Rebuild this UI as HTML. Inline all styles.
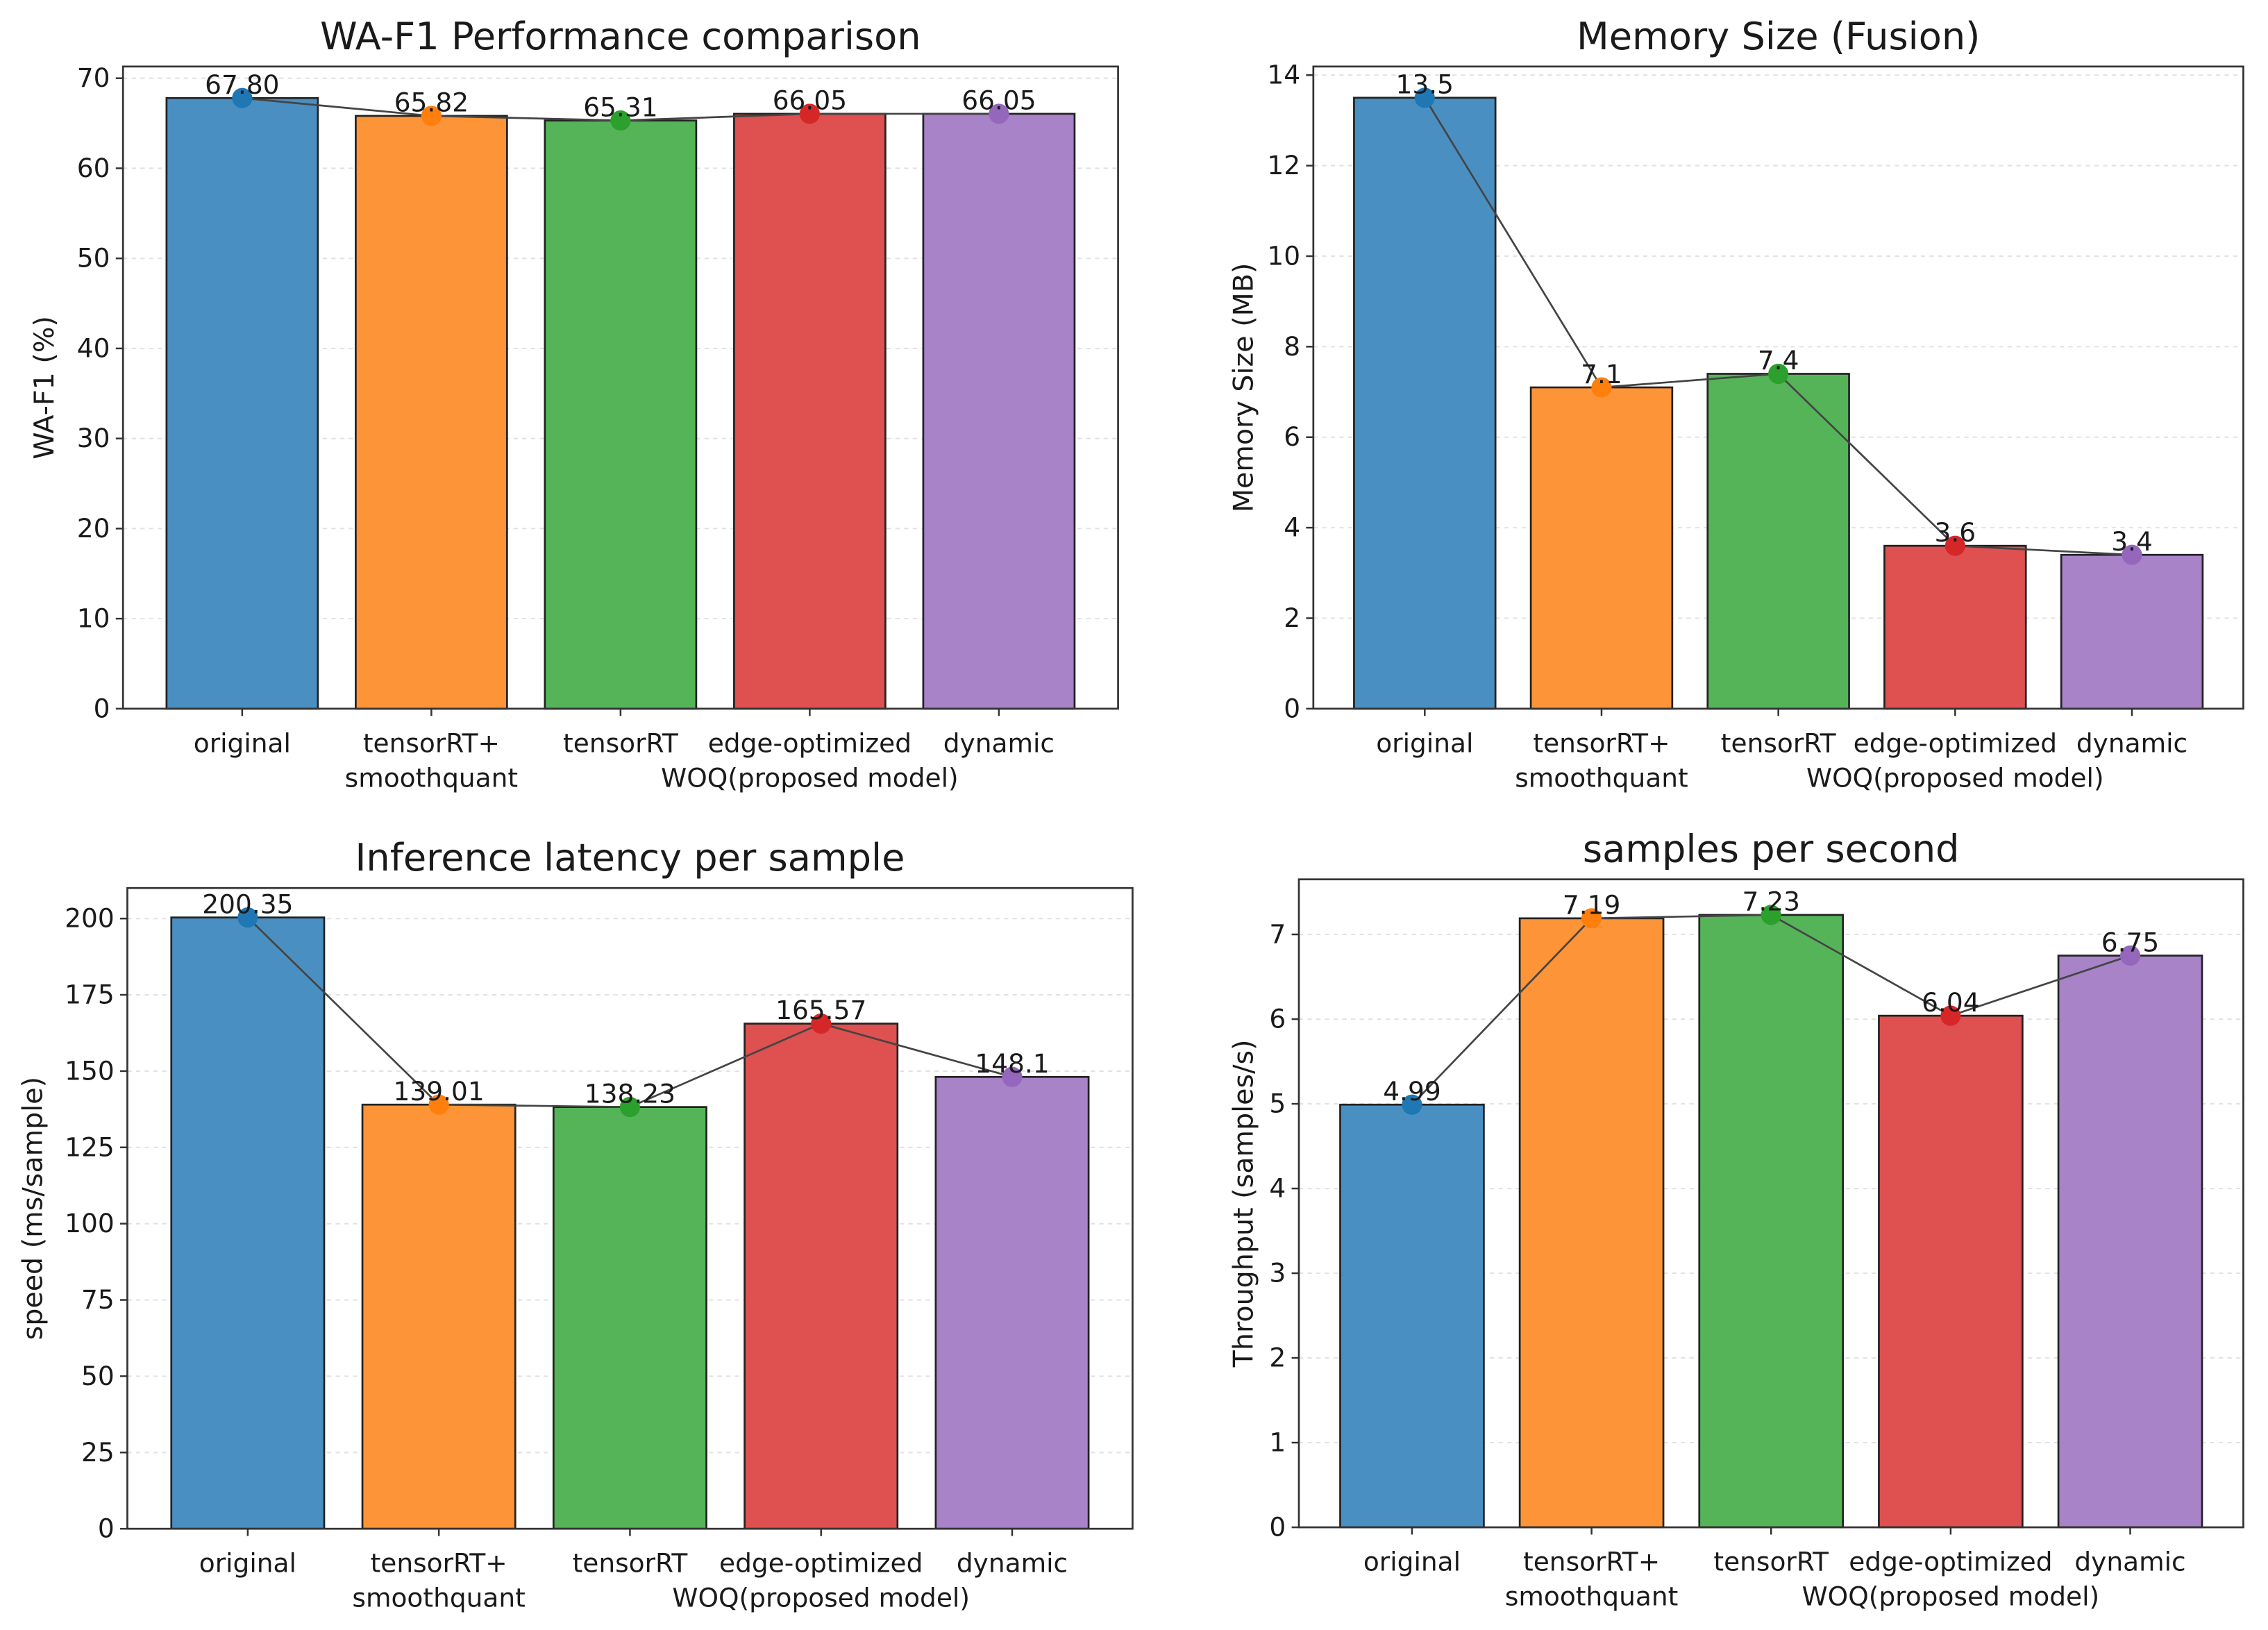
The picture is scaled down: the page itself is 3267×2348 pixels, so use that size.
<!DOCTYPE html>
<html><head><meta charset="utf-8"><style>
html,body{margin:0;padding:0;background:#fff;}
svg{display:block;}
text{font-family:"DejaVu Sans","Liberation Sans",sans-serif;fill:#1a1a1a;}
</style></head><body>
<svg id="fig" width="3267" height="2348" viewBox="0 0 1568 1127" xmlns="http://www.w3.org/2000/svg"></svg>
<script>
const categories = ["original", "tensorRT+\nsmoothquant", "tensorRT", "edge-optimized\nWOQ(proposed model)", "dynamic"];
const f1Values = [67.80, 65.82, 65.31, 66.05, 66.05];
const f1Labels = ["67.80", "65.82", "65.31", "66.05", "66.05"];
const f1Ticks = [0, 10, 20, 30, 40, 50, 60, 70];
const memValues = [13.5, 7.1, 7.4, 3.6, 3.4];
const memLabels = ["13.5", "7.1", "7.4", "3.6", "3.4"];
const memTicks = [0, 2, 4, 6, 8, 10, 12, 14];
const latValues = [200.35, 139.01, 138.23, 165.57, 148.1];
const latLabels = ["200.35", "139.01", "138.23", "165.57", "148.1"];
const latTicks = [0, 25, 50, 75, 100, 125, 150, 175, 200];
const thrValues = [4.99, 7.19, 7.23, 6.04, 6.75];
const thrLabels = ["4.99", "7.19", "7.23", "6.04", "6.75"];
const thrTicks = [0, 1, 2, 3, 4, 5, 6, 7];

const barColors = ["#4a8fc2", "#fd9437", "#55b458", "#df5050", "#a883c8"];
const dotColors = ["#1f77b4", "#ff7f0e", "#2ca02c", "#d62728", "#9467bd"];
const NS = "http://www.w3.org/2000/svg";
const fig = document.getElementById("fig");
function el(tag, attrs, parent, txt){
  const e = document.createElementNS(NS, tag);
  for (const k in attrs) e.setAttribute(k, attrs[k]);
  if (txt !== undefined) e.textContent = txt;
  (parent || fig).appendChild(e);
  return e;
}
function chart(cfg){
  const g = el("g", {});
  
  
  const L = cfg.left, R = cfg.right, T = cfg.top, B = cfg.bottom;
  const n = categories.length;
  const sp = (R - L) / (n - 1 + 2 * 0.63);
  const xs = i => L + sp * (0.63 + i);
  const ys = v => B - (v / cfg.ymax) * (B - T);
  const bw = sp * 0.8;
  cfg.ticks.forEach(t => {
    const y = ys(t);
    if (t > 0) {
      const gl = el("line", {x1: L, x2: R, y1: y, y2: y, stroke: "#e2e2e2", "stroke-width": 1, "stroke-dasharray": "3,3"}, g);
      
      
    }
    el("line", {x1: L - 5, x2: L, y1: y, y2: y, stroke: "#333", "stroke-width": 1.2}, g);
    const tl = el("text", {x: L - 9, y: y + 6, "text-anchor": "end", "font-size": 18}, g, String(t));
    
    
  });
  categories.forEach((c, i) => {
    const v = cfg.values[i];
    const r = el("rect", {x: xs(i) - bw / 2, y: ys(v), width: bw, height: B - ys(v), fill: barColors[i], stroke: "#222", "stroke-width": 1.3}, g);
    
    
    el("line", {x1: xs(i), x2: xs(i), y1: B, y2: B + 5, stroke: "#333", "stroke-width": 1.2}, g);
    const lines = c.split("\n");
    lines.forEach((ln, k) => {
      const xl = el("text", {x: xs(i), y: B + 30 + k * 24, "text-anchor": "middle", "font-size": 18}, g, ln);
      
      
    });
  });
  const pts = cfg.values.map((v, i) => xs(i) + "," + ys(v)).join(" ");
  const pl = el("polyline", {points: pts, fill: "none", stroke: "#444", "stroke-width": 1.3}, g);
  
  
  cfg.values.forEach((v, i) => {
    const d = el("circle", {cx: xs(i), cy: ys(v), r: 7, fill: dotColors[i]}, g);
    
    
    const vl = el("text", {x: xs(i), y: ys(v) - 3, "text-anchor": "middle", "font-size": 18}, g, cfg.labels[i]);
    
    
  });
  const fr = el("rect", {x: L, y: T, width: R - L, height: B - T, fill: "none", stroke: "#333", "stroke-width": 1.3}, g);
  
  
  const tt = el("text", {x: (L + R) / 2, y: T - 12, "text-anchor": "middle", "font-size": 26}, g, cfg.title);
  
  
  const cy = (T + B) / 2;
  const yl = el("text", {x: cfg.ylx, y: cy, "text-anchor": "middle", "font-size": 19, transform: "rotate(-90 " + cfg.ylx + " " + cy + ")"}, g, cfg.ylabel);
  
  
}
chart({name: "wa-f1-chart", title: "WA-F1 Performance comparison", ylabel: "WA-F1 (%)", values: f1Values, labels: f1Labels, ticks: f1Ticks, ymax: 71.3, left: 85, right: 773, top: 46, bottom: 490, ylx: 37});
chart({name: "memory-chart", title: "Memory Size (Fusion)", ylabel: "Memory Size (MB)", values: memValues, labels: memLabels, ticks: memTicks, ymax: 14.19, left: 908, right: 1551, top: 46, bottom: 490, ylx: 866});
chart({name: "latency-chart", title: "Inference latency per sample", ylabel: "speed (ms/sample)", values: latValues, labels: latLabels, ticks: latTicks, ymax: 210, left: 88, right: 783, top: 614, bottom: 1057, ylx: 29});
chart({name: "throughput-chart", title: "samples per second", ylabel: "Throughput (samples/s)", values: thrValues, labels: thrLabels, ticks: thrTicks, ymax: 7.65, left: 898, right: 1551, top: 608, bottom: 1056, ylx: 866});
</script>
</body></html>
